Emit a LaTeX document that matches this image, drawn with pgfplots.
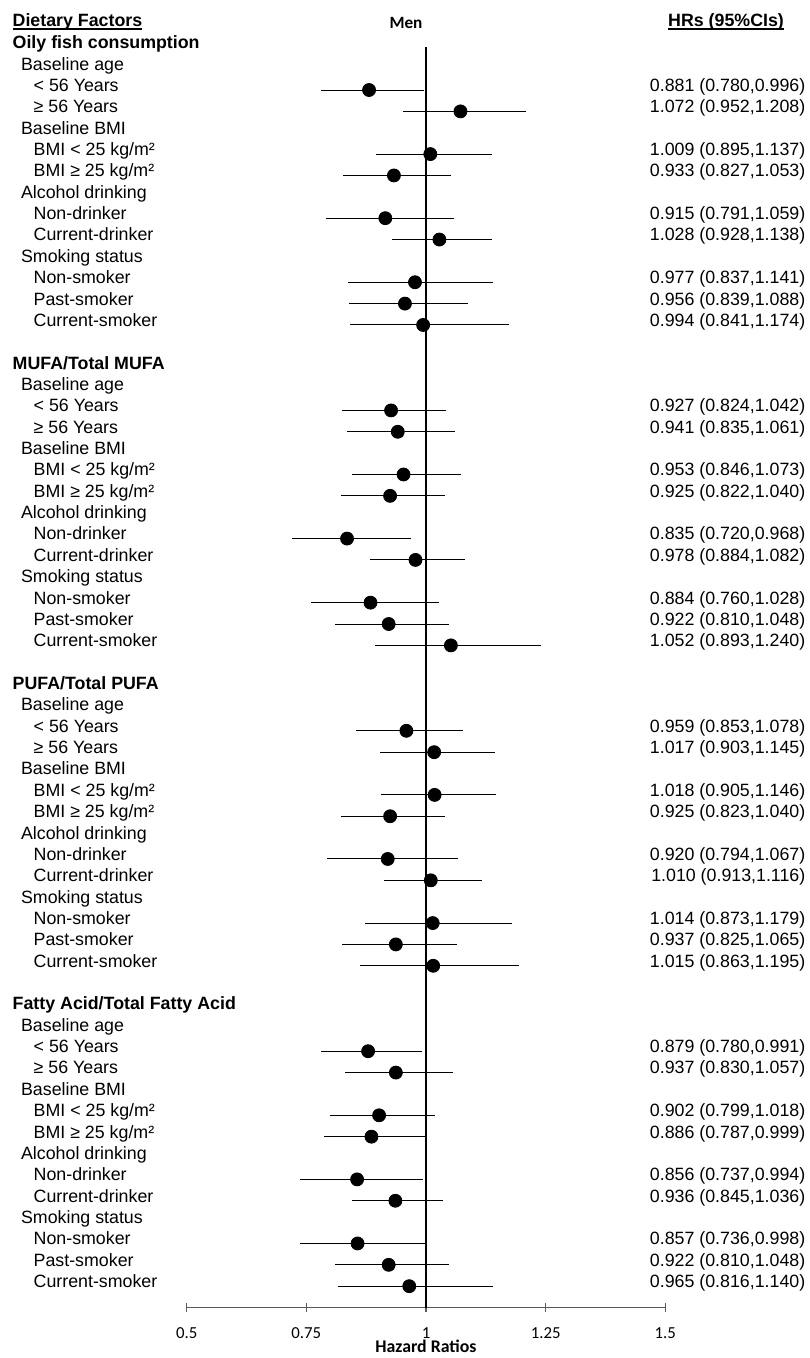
\documentclass[border=0pt]{standalone}
\usepackage{fontspec}
\setmainfont{Liberation Sans}
\newfontfamily\calibri{Carlito}
\usepackage{pgfplots}
\pgfplotsset{compat=1.18}
\usepackage{pgfplotstable}

\pgfplotstableread{
row hr lo hi
2 0.881 0.780 0.996
3 1.072 0.952 1.208
5 1.009 0.895 1.137
6 0.933 0.827 1.053
8 0.915 0.791 1.059
9 1.028 0.928 1.138
11 0.977 0.837 1.141
12 0.956 0.839 1.088
13 0.994 0.841 1.174
17 0.927 0.824 1.042
18 0.941 0.835 1.061
20 0.953 0.846 1.073
21 0.925 0.822 1.040
23 0.835 0.720 0.968
24 0.978 0.884 1.082
26 0.884 0.760 1.028
27 0.922 0.810 1.048
28 1.052 0.893 1.240
32 0.959 0.853 1.078
33 1.017 0.903 1.145
35 1.018 0.905 1.146
36 0.925 0.823 1.040
38 0.920 0.794 1.067
39 1.010 0.913 1.116
41 1.014 0.873 1.179
42 0.937 0.825 1.065
43 1.015 0.863 1.195
47 0.879 0.780 0.991
48 0.937 0.830 1.057
50 0.902 0.799 1.018
51 0.886 0.787 0.999
53 0.856 0.737 0.994
54 0.936 0.845 1.036
56 0.857 0.736 0.998
57 0.922 0.810 1.048
58 0.965 0.816 1.140
}\datatable

\newcommand\lab{\fontsize{8.9}{10.68}\selectfont}
\newcommand\ul[1]{\setbox0\hbox{#1}\rlap{\rule[-1.6pt]{\wd0}{0.55pt}}\box0}
\tikzset{lbl/.style={anchor=base west, inner sep=0pt, font=\lab}}

\newcommand\grp[2]{%
 \node[lbl,font=\lab\bfseries] at (axis cs:0.13561,{-(#1)-0.065}) {#2};
 \node[lbl] at (axis cs:0.15315,{-(#1)-1.065}) {Baseline age};
 \node[lbl] at (axis cs:0.17948,{-(#1)-2.065}) {< 56 Years};
 \node[lbl] at (axis cs:0.17948,{-(#1)-3.065}) {≥ 56 Years};
 \node[lbl] at (axis cs:0.15315,{-(#1)-4.065}) {Baseline BMI};
 \node[lbl] at (axis cs:0.17948,{-(#1)-5.065}) {BMI < 25 kg/m²};
 \node[lbl] at (axis cs:0.17948,{-(#1)-6.065}) {BMI ≥ 25 kg/m²};
 \node[lbl] at (axis cs:0.15315,{-(#1)-7.065}) {Alcohol drinking};
 \node[lbl] at (axis cs:0.17948,{-(#1)-8.065}) {Non-drinker};
 \node[lbl] at (axis cs:0.17948,{-(#1)-9.065}) {Current-drinker};
 \node[lbl] at (axis cs:0.15315,{-(#1)-10.065}) {Smoking status};
 \node[lbl] at (axis cs:0.17948,{-(#1)-11.065}) {Non-smoker};
 \node[lbl] at (axis cs:0.17948,{-(#1)-12.065}) {Past-smoker};
 \node[lbl] at (axis cs:0.17948,{-(#1)-13.065}) {Current-smoker};
}
\newcommand\hrt[2]{\node[lbl,anchor=base east] at (axis cs:1.79335,{-(#1)-0.065}) {#2};}

\begin{document}
\begin{tikzpicture}
\begin{axis}[
  scale only axis, width=239.3pt, height=630.1pt,
  xmin=0.5, xmax=1.5, ymin=-59, ymax=0,
  axis x line*=bottom, axis y line=none,
  xtick={0.5,0.75,1,1.25,1.5}, xticklabels={0.5,0.75,1,1.25,1.5},
  tick align=center, major tick length=4.5pt,
  x axis line style={black!65, line width=0.6pt},
  xtick style={black!65, line width=0.6pt},
  xticklabel style={font=\calibri\fontsize{8.4}{10}\selectfont, anchor=base, inner sep=0pt, yshift=-13pt},
  clip=false,
]
\path (axis cs:0.10991,2.2144) rectangle (axis cs:1.80025,-61.362);
\addplot[black, line width=0.65pt] coordinates {(1,0) (1,-59)};
\addplot[only marks, mark=*, mark size=3.25pt, black,
  error bars/.cd, x dir=both, x explicit, error mark=none,
  error bar style={line width=0.5pt, black}]
  table[x=hr, y expr=-\thisrow{row},
        x error plus expr=\thisrow{hi}-\thisrow{hr},
        x error minus expr=\thisrow{hr}-\thisrow{lo}] {\datatable};

\node[lbl,font=\lab\bfseries] at (axis cs:0.13561,0.98) {\ul{Dietary Factors}};
\node[lbl,anchor=base east,font=\lab\bfseries] at (axis cs:1.74864,0.98) {\ul{HRs (95\%CIs)}};
\node[anchor=base,inner sep=0pt,font=\calibri\bfseries\fontsize{8.6}{10}\selectfont] at (axis cs:0.95821,0.866) {Men};
\node[anchor=base,inner sep=0pt,font=\calibri\bfseries\fontsize{8.9}{10}\selectfont] at (axis cs:1,-59) [yshift=-22.5pt] {Hazard Ratios};

\grp{0}{Oily fish consumption}
\grp{15}{MUFA/Total MUFA}
\grp{30}{PUFA/Total PUFA}
\grp{45}{Fatty Acid/Total Fatty Acid}

\hrt{2}{0.881 (0.780,0.996)}
\hrt{3}{1.072 (0.952,1.208)}
\hrt{5}{1.009 (0.895,1.137)}
\hrt{6}{0.933 (0.827,1.053)}
\hrt{8}{0.915 (0.791,1.059)}
\hrt{9}{1.028 (0.928,1.138)}
\hrt{11}{0.977 (0.837,1.141)}
\hrt{12}{0.956 (0.839,1.088)}
\hrt{13}{0.994 (0.841,1.174)}
\hrt{17}{0.927 (0.824,1.042)}
\hrt{18}{0.941 (0.835,1.061)}
\hrt{20}{0.953 (0.846,1.073)}
\hrt{21}{0.925 (0.822,1.040)}
\hrt{23}{0.835 (0.720,0.968)}
\hrt{24}{0.978 (0.884,1.082)}
\hrt{26}{0.884 (0.760,1.028)}
\hrt{27}{0.922 (0.810,1.048)}
\hrt{28}{1.052 (0.893,1.240)}
\hrt{32}{0.959 (0.853,1.078)}
\hrt{33}{1.017 (0.903,1.145)}
\hrt{35}{1.018 (0.905,1.146)}
\hrt{36}{0.925 (0.823,1.040)}
\hrt{38}{0.920 (0.794,1.067)}
\hrt{39}{1.010 (0.913,1.116)}
\hrt{41}{1.014 (0.873,1.179)}
\hrt{42}{0.937 (0.825,1.065)}
\hrt{43}{1.015 (0.863,1.195)}
\hrt{47}{0.879 (0.780,0.991)}
\hrt{48}{0.937 (0.830,1.057)}
\hrt{50}{0.902 (0.799,1.018)}
\hrt{51}{0.886 (0.787,0.999)}
\hrt{53}{0.856 (0.737,0.994)}
\hrt{54}{0.936 (0.845,1.036)}
\hrt{56}{0.857 (0.736,0.998)}
\hrt{57}{0.922 (0.810,1.048)}
\hrt{58}{0.965 (0.816,1.140)}
\end{axis}
\end{tikzpicture}
\end{document}
